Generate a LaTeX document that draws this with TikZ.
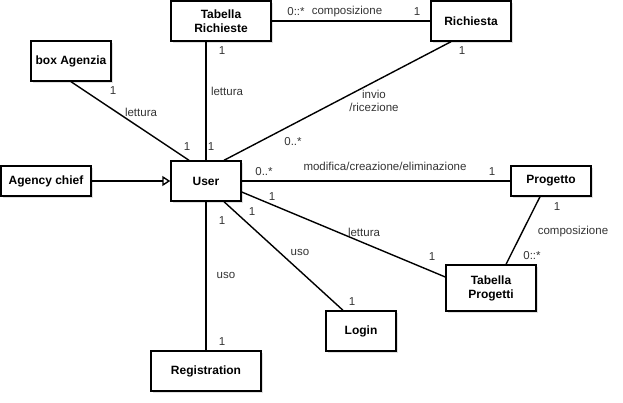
\documentclass[tikz,border=0pt]{standalone}
\usepackage{fontspec}
\setmainfont{Liberation Sans}
\usepackage{tikz}
\usetikzlibrary{positioning, arrows.meta, shadows}

\begin{document}
\begin{tikzpicture}[
  x=1pt, y=-1pt,
  box/.style={draw, line width=1.4pt, fill=white, inner sep=0pt, align=center,
    font=\fontsize{12}{14}\selectfont\bfseries,
    drop shadow={shadow xshift=1.6pt, shadow yshift=-1.6pt, opacity=0.25, fill=gray}},
  link/.style={line width=1.4pt},
  lbl/.style={font=\fontsize{11.5}{13.5}\selectfont, text=black!80, inner sep=0pt, align=center}
]
  \useasboundingbox (0,0) rectangle (623,403);

  % classes
  \node[box, minimum width=100pt, minimum height=40pt] (trich) at (221,21) {Tabella\\Richieste};
  \node[box, minimum width=80pt, minimum height=40pt] (rich) at (471,21) {Richiesta};
  \node[box, minimum width=80pt, minimum height=40pt] (agz) at (71,61) {box Agenzia};
  \node[box, minimum width=90pt, minimum height=30pt] (chief) at (46,181) {Agency chief};
  \node[box, minimum width=70pt, minimum height=40pt] (user) at (206,181) {User};
  \node[box, minimum width=80pt, minimum height=30pt] (prog) at (551,181) {Progetto};
  \node[box, minimum width=90pt, minimum height=46pt] (tprog) at (491,288) {Tabella\\Progetti};
  \node[box, minimum width=70pt, minimum height=40pt] (login) at (361,331) {Login};
  \node[box, minimum width=110pt, minimum height=40pt] (reg) at (206,371) {Registration};

  % associations
  \draw[link] (trich.east) -- (rich.west);
  \node[lbl] (m1) at (296,12) {0::*};
  \node[lbl] (a1) at (347,12) {composizione};
  \node[lbl] (m2) at (417,12) {1};

  \draw[link] (agz.south) -- ([xshift=-17pt]user.north);
  \node[lbl] (m3) at (113,91) {1};
  \node[lbl] (a2) at (141,112) {lettura};
  \node[lbl] (m4) at (187,147) {1};

  \draw[link] ([xshift=-15pt]trich.south) -- (user.north);
  \node[lbl] (m5) at (222,51) {1};
  \node[lbl] (a3) at (227,91) {lettura};
  \node[lbl] (m6) at (211,147) {1};

  \draw[link] ([xshift=-20pt]rich.south) -- ([xshift=18pt]user.north);
  \node[lbl] (m7) at (462,51) {1};
  \node[lbl] (a4) at (374,101) {invio\\/ricezione};
  \node[lbl] (m8) at (293,142) {0..*};

  % generalization
  \draw[link, -{Triangle[open, length=8pt, width=10pt]}] (chief.east) -- (user.west);

  \draw[link] (user.east) -- (prog.west);
  \node[lbl] (m9) at (264,172) {0..*};
  \node[lbl] (a5) at (385,166) {modifica/creazione/eliminazione};
  \node[lbl] (m10) at (492,172) {1};

  \draw[link] ([yshift=-11pt]user.east) -- ([yshift=11pt]tprog.west);
  \node[lbl] (m11) at (272,197) {1};
  \node[lbl] (a6) at (364,232) {lettura};
  \node[lbl] (m12) at (432,257) {1};

  \draw[link] ([xshift=18pt]user.south) -- ([xshift=-18pt]login.north);
  \node[lbl] (m13) at (252,212) {1};
  \node[lbl] (a7) at (300,252) {uso};
  \node[lbl] (m14) at (352,302) {1};

  \draw[link] (user.south) -- (reg.north);
  \node[lbl] (m15) at (222,221) {1};
  \node[lbl] (a8) at (226,275) {uso};
  \node[lbl] (m16) at (222,342) {1};

  \draw[link] ([xshift=-11pt]prog.south) -- ([xshift=15pt]tprog.north);
  \node[lbl] (m17) at (557,207) {1};
  \node[lbl] (a9) at (573,232) {composizione};
  \node[lbl] (m18) at (532,256) {0::*};
\end{tikzpicture}
\end{document}
